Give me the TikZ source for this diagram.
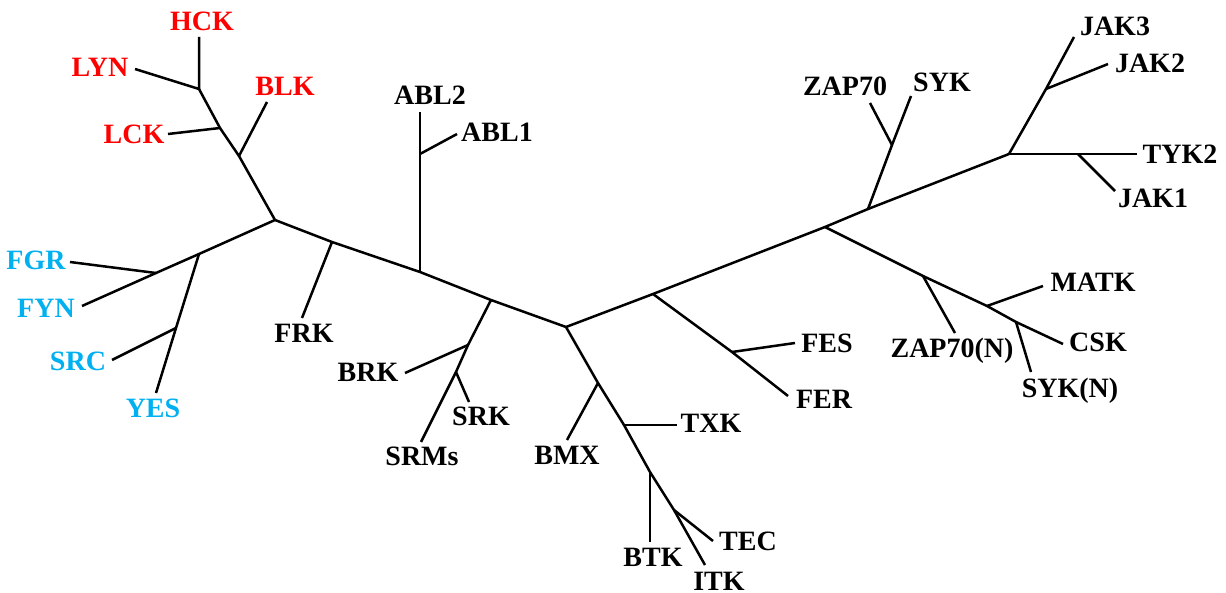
\documentclass[tikz,border=0pt]{standalone}
\usepackage{fontspec}
\setmainfont{Liberation Serif}
\definecolor{tred}{HTML}{FF0000}
\definecolor{tblue}{HTML}{00B0F0}
\begin{document}
\begin{tikzpicture}[x=1pt,y=-1pt,
  branch/.style={line width=2.5pt,line cap=butt,line join=miter},
  leaf/.style={inner sep=0pt,anchor=center,font=\fontsize{28}{30}\selectfont\bfseries,text height=18.5pt,text depth=0pt},
  redleaf/.style={leaf,text=tred},
  blueleaf/.style={leaf,text=tblue}]
\useasboundingbox (0,0) rectangle (1226,593);
% internal junctions
\coordinate (A) at (275,220);
\coordinate (a1) at (239,156);
\coordinate (a2) at (220,128);
\coordinate (a3) at (199,89);
\coordinate (b1) at (199,254);
\coordinate (b2) at (156,273);
\coordinate (b3) at (176,328);
\coordinate (m1) at (332,242);
\coordinate (m2) at (420,272);
\coordinate (m3) at (420,154);
\coordinate (m4) at (491,300);
\coordinate (m5) at (468,345);
\coordinate (m6) at (456,372);
\coordinate (C) at (566,327);
\coordinate (c1) at (598,383);
\coordinate (c2) at (624,425);
\coordinate (c3) at (650,472);
\coordinate (c4) at (674,510);
\coordinate (f1) at (653,294);
\coordinate (f2) at (732,352);
\coordinate (D) at (825,227);
\coordinate (d1) at (923,276);
\coordinate (d2) at (987,306);
\coordinate (d3) at (1016,322);
\coordinate (E) at (868,209);
\coordinate (e1) at (892,145);
\coordinate (J) at (1009,154);
\coordinate (j1) at (1046,89);
\coordinate (j2) at (1078,154);
% leaf tips
\coordinate (tHCK) at (199,37);
\coordinate (tLYN) at (135,69);
\coordinate (tLCK) at (168,134);
\coordinate (tBLK) at (267,102);
\coordinate (tFGR) at (70,262);
\coordinate (tFYN) at (82,306);
\coordinate (tSRC) at (112,360);
\coordinate (tYES) at (156,393);
\coordinate (tFRK) at (302,318);
\coordinate (tABLb) at (420,112);
\coordinate (tABLa) at (457,134);
\coordinate (tBRK) at (405,373);
\coordinate (tSRK) at (469,402);
\coordinate (tSRMs) at (421,442);
\coordinate (tBMX) at (567,440);
\coordinate (tTXK) at (677,425);
\coordinate (tBTK) at (650,542);
\coordinate (tTEC) at (713,541);
\coordinate (tITK) at (705,565);
\coordinate (tFES) at (795,343);
\coordinate (tFER) at (788,396);
\coordinate (tZAPN) at (955,333);
\coordinate (tMATK) at (1043,286);
\coordinate (tSYKN) at (1031,372);
\coordinate (tCSK) at (1063,344);
\coordinate (tZAP) at (870,103);
\coordinate (tSYK) at (911,96);
\coordinate (tJAKc) at (1074,37);
\coordinate (tJAKb) at (1108,64);
\coordinate (tTYK) at (1137,154);
\coordinate (tJAKa) at (1115,191);
% branches
\draw[branch] (tHCK) -- (a3) -- (tLYN);
\draw[branch] (A) -- (a1) -- (a2) -- (a3);
\draw[branch] (a2) -- (tLCK);
\draw[branch] (a1) -- (tBLK);
\draw[branch] (A) -- (b1) -- (b2) -- (tFYN);
\draw[branch] (b2) -- (tFGR);
\draw[branch] (b1) -- (b3) -- (tYES);
\draw[branch] (b3) -- (tSRC);
\draw[branch] (A) -- (m1) -- (m2) -- (m4) -- (C);
\draw[branch] (m1) -- (tFRK);
\draw[branch] (m2) -- (m3) -- (tABLb);
\draw[branch] (m3) -- (tABLa);
\draw[branch] (m4) -- (m5) -- (m6) -- (tSRMs);
\draw[branch] (m5) -- (tBRK);
\draw[branch] (m6) -- (tSRK);
\draw[branch] (C) -- (c1) -- (c2) -- (c3) -- (c4) -- (tITK);
\draw[branch] (c1) -- (tBMX);
\draw[branch] (c2) -- (tTXK);
\draw[branch] (c3) -- (tBTK);
\draw[branch] (c4) -- (tTEC);
\draw[branch] (C) -- (f1) -- (D) -- (E) -- (J);
\draw[branch] (f1) -- (f2) -- (tFER);
\draw[branch] (f2) -- (tFES);
\draw[branch] (D) -- (d1) -- (d2) -- (d3) -- (tCSK);
\draw[branch] (d1) -- (tZAPN);
\draw[branch] (d2) -- (tMATK);
\draw[branch] (d3) -- (tSYKN);
\draw[branch] (E) -- (e1) -- (tSYK);
\draw[branch] (e1) -- (tZAP);
\draw[branch] (J) -- (j1) -- (tJAKc);
\draw[branch] (j1) -- (tJAKb);
\draw[branch] (J) -- (j2) -- (tTYK);
\draw[branch] (j2) -- (tJAKa);
% labels
\node[redleaf] (HCK) at (202,21) {HCK};
\node[redleaf] (LYN) at (100,67) {LYN};
\node[redleaf] (LCK) at (134,134) {LCK};
\node[redleaf] (BLK) at (285,86) {BLK};
\node[blueleaf] (FGR) at (36,260) {FGR};
\node[blueleaf] (FYN) at (46,308) {FYN};
\node[blueleaf] (SRC) at (78,361) {SRC};
\node[blueleaf] (YES) at (153,408) {YES};
\node[leaf] (FRK) at (304,333) {FRK};
\node[leaf] (ABL2) at (430,95) {ABL2};
\node[leaf] (ABL1) at (497,132) {ABL1};
\node[leaf] (BRK) at (368,372) {BRK};
\node[leaf] (SRK) at (481,416) {SRK};
\node[leaf] (SRMs) at (422,456) {SRMs};
\node[leaf] (BMX) at (567,455) {BMX};
\node[leaf] (TXK) at (711,423) {TXK};
\node[leaf] (BTK) at (653,557) {BTK};
\node[leaf] (TEC) at (748,541) {TEC};
\node[leaf] (ITK) at (719,581) {ITK};
\node[leaf] (FES) at (827,343) {FES};
\node[leaf] (FER) at (824,399) {FER};
\node[leaf] (ZAP70) at (845,86) {ZAP70};
\node[leaf] (SYK) at (942,82) {SYK};
\node[leaf] (JAK3) at (1115,26) {JAK3};
\node[leaf] (JAK2) at (1150,63) {JAK2};
\node[leaf] (TYK2) at (1180,154) {TYK2};
\node[leaf] (JAK1) at (1153,198) {JAK1};
\node[leaf] (MATK) at (1093,282) {MATK};
\node[leaf] (ZAP70N) at (952,348) {ZAP70(N)};
\node[leaf] (CSK) at (1098,342) {CSK};
\node[leaf] (SYKN) at (1070,388) {SYK(N)};
\end{tikzpicture}
\end{document}
